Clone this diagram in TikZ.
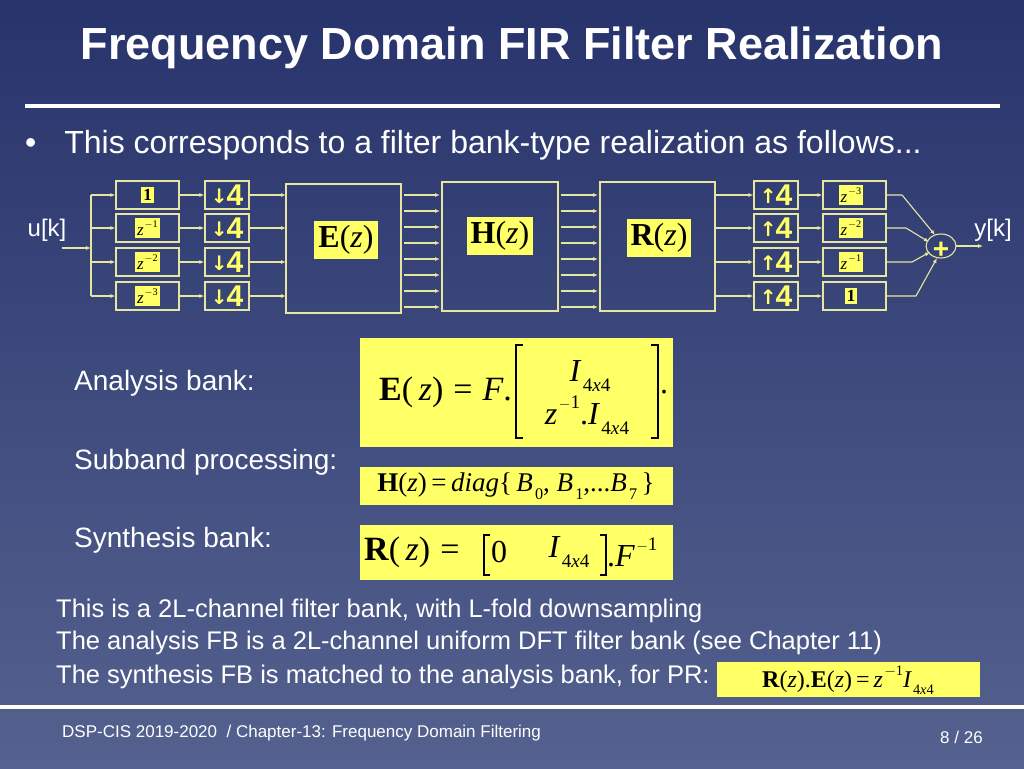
\documentclass[tikz,border=0pt]{standalone}
\usepackage{fontspec}
\usepackage{graphicx}
\setmainfont{Liberation Sans}
\newfontfamily\tms{Liberation Serif}
\newfontfamily\dvs{DejaVu Sans}
\usetikzlibrary{arrows.meta}
\definecolor{bgtop}{HTML}{27336B}
\definecolor{bgbot}{HTML}{55628F}
\definecolor{ln}{HTML}{E6E6A0}
\definecolor{yel}{HTML}{FFFF66}
\newcommand{\Bf}[1]{{\tms\bfseries #1}}
\newcommand{\It}[1]{{\tms\itshape #1}}
\newcommand{\Rm}[1]{{\tms #1}}
\newcommand{\Sb}[1]{\kern0.08em\raisebox{-0.3em}{\scalebox{0.6}{\tms #1}}}
\newcommand{\Sp}[1]{\kern0.05em\raisebox{0.5em}{\scalebox{0.6}{\tms #1}}}
\begin{document}
\begin{tikzpicture}[x=1pt,y=-1pt,
  blk/.style={draw=ln,line width=1.2pt,fill=none},
  lab/.style={fill=yel,text=black,inner sep=2pt},
  arr/.style={draw=ln,line width=1.1pt,-{Latex[length=5pt,width=4pt]}},
  wire/.style={draw=ln,line width=1.1pt},
  four/.style={text=yel,font=\fontsize{30}{30}\selectfont\bfseries,inner sep=0pt},
  brk/.style={draw=black,line width=1.3pt},
  txt/.style={text=white,anchor=west,inner sep=0pt}]
\useasboundingbox (0,0) rectangle (1024,768);
\shade[top color=bgtop,bottom color=bgbot] (0,0) rectangle (1024,768);
\node[text=white,font=\fontsize{45}{46}\selectfont\bfseries] (title) at (512,48) {Frequency Domain FIR Filter Realization};
\fill[white] (25,104) rectangle (1000,108);
\node[txt,font=\fontsize{32}{34}\selectfont] (b1) at (25,145) {\textbullet\hspace{28pt}This corresponds to a filter bank-type realization as follows...};
% input
\node[text=white,font=\fontsize{24}{24}\selectfont] (uk) at (47,230) {u[k]};
\coordinate (in0) at (62,248);
\coordinate (sp) at (91,248);
\draw[arr] (in0) -- (sp);
\draw[wire] (91,195) -- (91,296);
\foreach \i/\y/\d in {1/195/{\Bf{1}},2/228/{\It{z}\Sp{$-$1}},3/262/{\It{z}\Sp{$-$2}},4/296/{\It{z}\Sp{$-$3}}}{
  \node[blk,minimum width=63pt,minimum height=28pt] (dl\i) at (147.5,\y) {};
  \node[lab,font=\fontsize{17}{17}\selectfont] at (147.5,\y) {\d};
  \node[blk,minimum width=44pt,minimum height=28pt] (dn\i) at (227,\y) {};
  \node[four] at (227,\y) {{\dvs\fontsize{20}{20}\selectfont\raisebox{2pt}{↓}}\kern-1pt4};
  \coordinate (s\i) at (91,\y);
  \draw[arr] (s\i) -- (dl\i.west);
  \draw[arr] (dl\i.east) -- (dn\i.west);
  \coordinate (ei\i) at (286,\y);
  \draw[arr] (dn\i.east) -- (ei\i);
}
\node[blk,minimum width=115pt,minimum height=129pt] (E) at (343.5,248.5) {};
\node[lab,font=\fontsize{32}{32}\selectfont,inner sep=4pt] at (346,240) {\Bf{E}\Rm{(}\It{z}\Rm{)}};
\node[blk,minimum width=116pt,minimum height=129pt] (H) at (500,246.5) {};
\node[lab,font=\fontsize{32}{32}\selectfont,inner sep=4pt] at (500,236) {\Bf{H}\Rm{(}\It{z}\Rm{)}};
\node[blk,minimum width=115pt,minimum height=129pt] (R) at (657.5,246.5) {};
\node[lab,font=\fontsize{32}{32}\selectfont,inner sep=4pt] at (659,238) {\Bf{R}\Rm{(}\It{z}\Rm{)}};
\foreach \y in {195,211,227,243,259,275,291,307}{
  \coordinate (a\y) at (404,\y); \coordinate (b\y) at (440,\y);
  \draw[arr] (a\y) -- (b\y);
  \coordinate (c\y) at (561,\y); \coordinate (d\y) at (598,\y);
  \draw[arr] (c\y) -- (d\y);
}
\node[minimum width=30pt,minimum height=24pt,inner sep=0pt] (plus) at (941,246) {};
\draw[ln,line width=1.1pt] (941,246) ellipse (15pt and 12pt);
\node[text=yel,font=\fontsize{28}{28}\selectfont\bfseries] at (941,250) {+};
\foreach \i/\y/\d/\t in {1/195/{\It{z}\Sp{$-$3}}/902,2/228/{\It{z}\Sp{$-$2}}/906,3/262/{\It{z}\Sp{$-$1}}/912,4/296/{\Bf{1}}/916}{
  \coordinate (ro\i) at (715,\y);
  \node[blk,minimum width=44pt,minimum height=28pt] (up\i) at (776,\y) {};
  \node[four] at (776,\y) {{\dvs\fontsize{20}{20}\selectfont\raisebox{2pt}{↑}}\kern-1pt4};
  \node[blk,minimum width=63pt,minimum height=28pt] (dr\i) at (854.5,\y) {};
  \node[lab,font=\fontsize{17}{17}\selectfont] at (851,\y) {\d};
  \draw[arr] (ro\i) -- (up\i.west);
  \draw[arr] (up\i.east) -- (dr\i.west);
  \coordinate (k\i) at (\t,\y);
}
\draw[arr] (dr1.east) -- (k1) -- (935,235);
\draw[arr] (dr2.east) -- (k2) -- (929,242);
\draw[arr] (dr3.east) -- (k3) -- (930,252);
\draw[arr] (dr4.east) -- (k4) -- (937,258);
\coordinate (yo) at (983,246);
\draw[arr] (956,246) -- (yo);
\node[text=white,font=\fontsize{24}{24}\selectfont] (yk) at (993,230) {y[k]};
% equations
\node[txt,font=\fontsize{28}{28}\selectfont] (an) at (74,383) {Analysis bank:};
\node[txt,font=\fontsize{28}{28}\selectfont] (sb) at (74,462) {Subband processing:};
\node[txt,font=\fontsize{28}{28}\selectfont] (sy) at (74,540) {Synthesis bank:};
\node[fill=yel,minimum width=313pt,minimum height=109pt,inner sep=0pt] (eqE) at (516.5,392.5) {};
\node[text=black,font=\fontsize{34}{34}\selectfont,anchor=east,inner sep=0pt] (eL) at (512,392) {\Bf{E}\Rm{(\,}\It{z}\Rm{)\hspace{10pt}=\hspace{10pt}}\It{F}\Rm{.}};
\node[text=black,font=\fontsize{32}{32}\selectfont,inner sep=0pt] (r1) at (590,376) {\It{I}\Sb{4\textit{x}4}};
\node[text=black,font=\fontsize{32}{32}\selectfont,inner sep=0pt] (r2) at (587,415) {\It{z}\Sp{$-$1}\Rm{.}\It{I}\Sb{4\textit{x}4}};
\draw[brk] (523,345) -- (516,345) -- (516,438) -- (523,438);
\draw[brk] (651,345) -- (658,345) -- (658,438) -- (651,438);
\node[text=black,font=\fontsize{32}{32}\selectfont,inner sep=0pt] (eD) at (664,392) {\Rm{.}};
\node[fill=yel,minimum width=313pt,minimum height=38pt,inner sep=0pt] (eqH) at (516.5,486) {};
\node[text=black,font=\fontsize{27}{27}\selectfont] at (516,486) {\Bf{H}\Rm{(}\It{z}\Rm{)\,=\,}\It{diag}\Rm{\{\,}\It{B}\Sb{0}\Rm{, }\It{B}\Sb{1}\Rm{,...}\It{B}\Sb{7}\Rm{\,\}}};
\node[fill=yel,minimum width=313pt,minimum height=55pt,inner sep=0pt] (eqR) at (516.5,552.5) {};
\node[text=black,font=\fontsize{34}{34}\selectfont,anchor=west,inner sep=0pt] (rL) at (364,552) {\Bf{R}\Rm{(\,}\It{z}\Rm{)\hspace{10pt}=}};
\node[text=black,font=\fontsize{32}{32}\selectfont,inner sep=0pt] (r0) at (499,552) {\Rm{0}};
\node[text=black,font=\fontsize{32}{32}\selectfont,inner sep=0pt] (rI) at (569,552) {\It{I}\Sb{4\textit{x}4}};
\draw[brk] (490,535) -- (484,535) -- (484,575) -- (490,575);
\draw[brk] (600,535) -- (606,535) -- (606,575) -- (600,575);
\node[text=black,font=\fontsize{32}{32}\selectfont,anchor=west,inner sep=0pt] (rF) at (607,552) {\Rm{.}\It{F}\Sp{$-$1}};
\node[txt,font=\fontsize{25.5}{26}\selectfont] (t1) at (56,611) {This is a 2L-channel filter bank, with L-fold downsampling};
\node[txt,font=\fontsize{25.5}{26}\selectfont] (t2) at (56,643) {The analysis FB is a 2L-channel uniform DFT filter bank (see Chapter 11)};
\node[txt,font=\fontsize{25.5}{26}\selectfont] (t3) at (56,677) {The synthesis FB is matched to the analysis bank, for PR:};
\node[fill=yel,minimum width=263pt,minimum height=35pt,inner sep=0pt] (eqP) at (848.5,679.5) {};
\node[text=black,font=\fontsize{24}{24}\selectfont] at (848,680) {\Bf{R}\Rm{(}\It{z}\Rm{).}\Bf{E}\Rm{(}\It{z}\Rm{)\,=\,}\It{z}\Sp{$-$1}\It{I}\Sb{4\textit{x}4}};
\fill[white] (0,705) rectangle (1024,709);
\node[txt,font=\fontsize{17}{18}\selectfont] (ft) at (62,733) {DSP-CIS 2019-2020~~/ Chapter-13: Frequency Domain Filtering};
\node[txt,font=\fontsize{17}{18}\selectfont] (pg) at (940,737) {8 / 26};
\end{tikzpicture}
\end{document}
